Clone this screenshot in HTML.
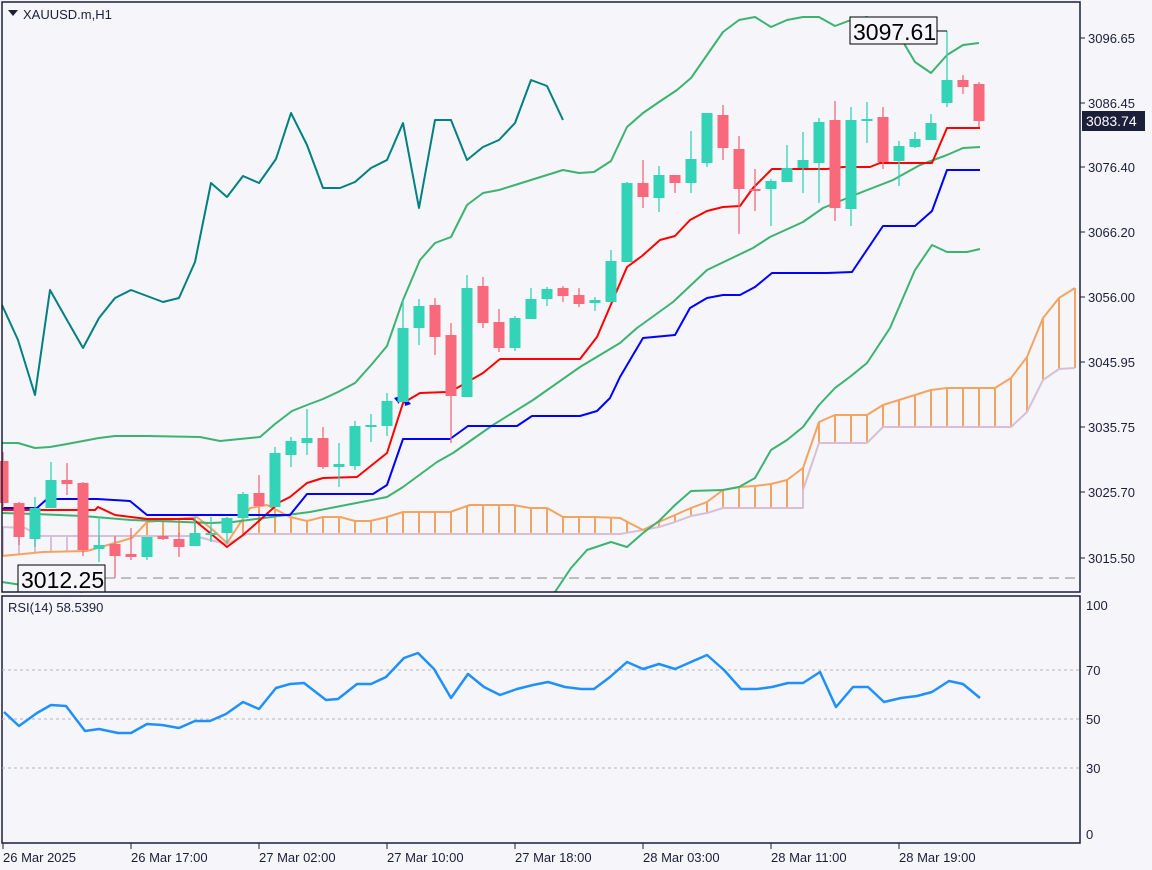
<!DOCTYPE html>
<html><head><meta charset="utf-8"><style>
html,body{margin:0;padding:0;background:#f5f5fa;width:1152px;height:870px;overflow:hidden}
svg{display:block}
text{font-family:"Liberation Sans",sans-serif;fill:#1c1f3a}
</style></head><body>
<svg id="s" width="1152" height="870" xmlns="http://www.w3.org/2000/svg">
<rect width="1152" height="870" fill="#f5f5fa"/>
<g id="cloud"></g>
<g id="lines"></g>
<g id="candles"></g>
<line x1="105" y1="578" x2="1080" y2="578" stroke="#888" stroke-dasharray="10,6" stroke-width="1"/>
<rect x="18" y="565" width="87" height="27" fill="#f5f5fa" stroke="#000"/>
<text x="21" y="588" font-size="23" style="fill:#000">3012.25</text>
<line x1="937" y1="31" x2="947" y2="31" stroke="#000"/>
<rect x="850" y="17" width="87" height="27" fill="#f5f5fa" stroke="#000"/>
<text x="853" y="40" font-size="23" style="fill:#000">3097.61</text>
<!-- frames -->
<rect x="2" y="2" width="1078" height="590" fill="none" stroke="#1c1f3a" stroke-width="1.5"/>
<rect x="2" y="596" width="1078" height="247" fill="none" stroke="#1c1f3a" stroke-width="1.5"/>
<path d="M8,10 L18,10 L13,16 Z" fill="#1c1f3a"/>
<text x="23" y="19" font-size="13">XAUUSD.m,H1</text>
<text x="8" y="612" font-size="13">RSI(14) 58.5390</text>
<g id="rsi"></g>
<g id="axis" font-size="13"></g>
<rect x="1082" y="111" width="63" height="20" fill="#1c1f3a"/>
<text x="1086" y="126" font-size="14" style="fill:#fff">3083.74</text>
</svg>
<script>
const NS="http://www.w3.org/2000/svg";
function el(p,t,a){const e=document.createElementNS(NS,t);for(const k in a)e.setAttribute(k,a[k]);document.getElementById(p).appendChild(e);return e;}
function pl(p,pts,c,w){el(p,'polyline',{points:pts.map(q=>q.join(',')).join(' '),fill:'none',stroke:c,'stroke-width':w||2,'stroke-linejoin':'round'});}
function interp(pts,x){for(let i=0;i<pts.length-1;i++){if(x>=pts[i][0]&&x<=pts[i+1][0]){const t=(x-pts[i][0])/(pts[i+1][0]-pts[i][0]);return pts[i][1]+t*(pts[i+1][1]-pts[i][1]);}}return null;}
// cloud
const A=[[2,556],[43,552],[87,551],[132,538],[147,522],[197,517],[213,530],[227,543],[250,508],[267,505],[290,517],[307,521],[323,517],[340,517],[355,521],[370,521],[387,517],[403,512],[450,512],[470,505],[513,505],[530,508],[547,508],[563,517],[595,517],[620,518],[643,530],[659,522],[675,515],[691,508],[707,502],[723,490],[739,487],[755,486],[771,484],[787,480],[803,468],[819,422],[835,415],[867,415],[883,405],[899,400],[915,395],[931,390],[947,388],[995,388],[1011,378],[1027,357],[1043,318],[1059,298],[1075,288]];
const B=[[2,527],[25,528],[40,536],[195,536],[210,540],[227,544],[247,534],[620,534],[643,530],[659,527],[675,522],[691,516],[707,513],[723,508],[803,508],[803,490],[819,443],[867,443],[883,427],[1011,427],[1027,412],[1043,380],[1059,369],[1075,368]];
for(let i=0;i<68;i++){const x=3+16*i;if(x>1075)break;const a=interp(A,x),b=interp(B,x);if(a==null||b==null)continue;
el('cloud','line',{x1:x,y1:a,x2:x,y2:b,stroke:a<b?'#f4a460':'#d8bfd8','stroke-width':2});}
pl('cloud',B,'#d8bfd8',2);pl('cloud',A,'#f4a460',2);
// lines
pl('lines',[[2,305],[18,340],[35,395],[50,290],[67,320],[83,348],[99,318],[115,298],[131,290],[147,296],[163,302],[179,298],[195,262],[211,183],[227,197],[243,176],[259,183],[276,159],[291,113],[307,145],[323,188],[340,188],[355,182],[371,168],[387,160],[403,123],[419,208],[435,120],[451,120],[467,160],[483,147],[499,140],[515,123],[531,80],[547,86],[563,120]],'#008080',2);
pl('lines',[[2,443],[18,443],[35,448],[50,447],[67,444],[83,441],[99,438],[115,436],[147,436],[200,437],[220,441],[260,437],[275,424],[292,411],[307,405],[323,399],[338,392],[355,383],[372,364],[387,346],[403,300],[420,260],[435,243],[451,237],[467,205],[483,193],[499,190],[515,185],[531,180],[547,175],[563,170],[579,173],[594,172],[611,161],[627,127],[643,113],[659,102],[677,90],[691,78],[707,55],[723,32],[739,20],[755,17],[771,27],[787,20],[803,17],[819,17],[835,26],[851,20],[867,17],[883,25],[899,35],[915,62],[931,73],[947,55],[963,45],[979,43]],'#3cb371',2);
pl('lines',[[2,513],[35,514],[83,516],[131,520],[211,523],[233,522],[310,512],[387,497],[403,487],[437,462],[453,453],[493,425],[533,400],[580,367],[620,343],[637,328],[673,302],[707,270],[753,248],[770,237],[803,222],[823,208],[857,194],[893,180],[920,165],[947,155],[963,148],[980,147]],'#3cb371',2);
pl('lines',[[2,582],[35,587],[83,592]],'#3cb371',2);
pl('lines',[[555,592],[571,568],[587,550],[611,542],[627,547],[643,533],[659,521],[675,505],[691,491],[723,490],[739,487],[755,478],[771,450],[787,440],[803,427],[819,405],[835,388],[851,376],[867,363],[890,328],[915,270],[932,245],[947,252],[967,252],[980,249]],'#3cb371',2);
pl('lines',[[2,510],[95,510],[98,507],[115,515],[147,519],[193,519],[227,547],[243,535],[260,520],[280,502],[290,497],[307,483],[323,478],[357,477],[387,453],[403,403],[420,393],[447,392],[457,388],[483,373],[500,359],[580,359],[597,337],[627,267],[642,256],[660,240],[675,236],[690,220],[707,211],[723,207],[740,206],[753,188],[772,169],[827,169],[843,167],[870,167],[880,163],[932,163],[947,128],[980,128]],'#ff0000',2);
pl('lines',[[2,508],[37,508],[47,499],[97,499],[130,501],[147,515],[290,515],[307,494],[373,494],[387,485],[403,439],[450,439],[468,426],[517,426],[532,416],[580,416],[597,411],[610,398],[620,377],[630,360],[643,338],[675,335],[690,308],[707,298],[723,295],[740,295],[755,287],[772,273],[827,273],[852,272],[883,226],[915,226],[932,211],[947,170],[980,170]],'#0000ff',2);
el('lines','path',{d:'M394,398 L400,396 L399,404 Z M404,396 L411,404 L405,406 Z',fill:'#0000ff'});
// candles: [open, close, high, low] in px
const C=[[461,503,452,508],[503,537,502,545],[539,508,497,547],[508,480,462,508],[480,484,463,495],[483,550,482,556],[549,545,517,562],[544,556,536,578],[554,557,528,560],[557,537,537,560],[536,539,535,540],[539,547,533,557],[546,533,517,546],[534,533,517,542],[533,518,517,544],[518,494,492,518],[493,506,475,506],[507,453,447,507],[455,441,437,467],[443,438,409,455],[438,467,427,469],[467,464,443,487],[466,426,421,470],[427,425,414,442],[426,401,393,436],[402,328,300,402],[328,306,299,345],[305,337,298,355],[335,396,323,443],[397,288,275,397],[286,323,277,328],[322,348,309,352],[348,318,316,351],[319,299,288,319],[299,289,287,306],[288,296,286,302],[295,304,288,307],[303,300,297,311],[302,261,250,302],[262,183,182,262],[183,197,160,208],[198,175,166,212],[175,183,175,193],[183,159,131,193],[163,113,113,167],[115,148,105,160],[149,189,136,234],[189,190,169,211],[189,181,179,226],[182,168,145,182],[168,160,132,193],[163,122,118,203],[120,208,101,221],[209,120,107,226],[121,119,102,143],[117,162,107,169],[161,146,141,186],[147,139,132,148],[140,123,114,140],[103,80,31,107],[80,87,75,94],[84,121,82,127]];
C.forEach((c,i)=>{const x=3+16*i;const up=c[1]<c[0];const col=up?'#33d3b8':'#f8697c';
el('candles','line',{x1:x,y1:c[2],x2:x,y2:c[3],stroke:col,'stroke-width':1.3});
const t=Math.min(c[0],c[1]),h=Math.max(2,Math.abs(c[1]-c[0]));
el('candles','rect',{x:x-5.5,y:t,width:11,height:h,fill:col});});
// rsi
[[670],[719],[768]].forEach(v=>el('rsi','line',{x1:2,y1:v[0],x2:1080,y2:v[0],stroke:'#b8b8b8','stroke-dasharray':'3,3'}));
pl('rsi',[[4,712],[19,726],[37,713],[51,705],[66,706],[85,731],[99,729],[118,733],[131,733],[147,724],[162,725],[179,728],[195,721],[210,721],[226,714],[243,702],[259,709],[276,688],[290,684],[304,683],[326,700],[338,699],[357,684],[371,684],[386,677],[404,658],[418,653],[434,669],[451,698],[468,674],[484,687],[500,695],[517,689],[533,685],[548,682],[565,687],[581,689],[594,689],[610,677],[627,662],[643,669],[659,664],[675,669],[691,662],[707,655],[724,670],[741,689],[757,689],[772,687],[788,683],[803,683],[820,672],[836,707],[853,687],[868,687],[884,702],[901,698],[917,696],[932,692],[949,681],[963,684],[980,698]],'#1e90ff',2.5);
// axis
const ax=document.getElementById('axis');
[['3096.65',38],['3086.45',103],['3076.40',167],['3066.20',232],['3056.00',297],['3045.95',362],['3035.75',427],['3025.70',492],['3015.50',558]].forEach(([t,y])=>{
el('axis','line',{x1:1080,y1:y,x2:1085,y2:y,stroke:'#1c1f3a'});el('axis','text',{x:1088,y:y+5}).textContent=t;});
[['100',610],['70',675],['50',724],['30',773],['0',839]].forEach(([t,y])=>{el('axis','text',{x:1086,y:y}).textContent=t;});
[['26 Mar 2025',3],['26 Mar 17:00',131],['27 Mar 02:00',259],['27 Mar 10:00',387],['27 Mar 18:00',515],['28 Mar 03:00',643],['28 Mar 11:00',771],['28 Mar 19:00',899]].forEach(([t,x])=>{
el('axis','line',{x1:x,y1:843,x2:x,y2:849,stroke:'#1c1f3a'});el('axis','text',{x:x,y:862}).textContent=t;});
</script>
</body></html>
